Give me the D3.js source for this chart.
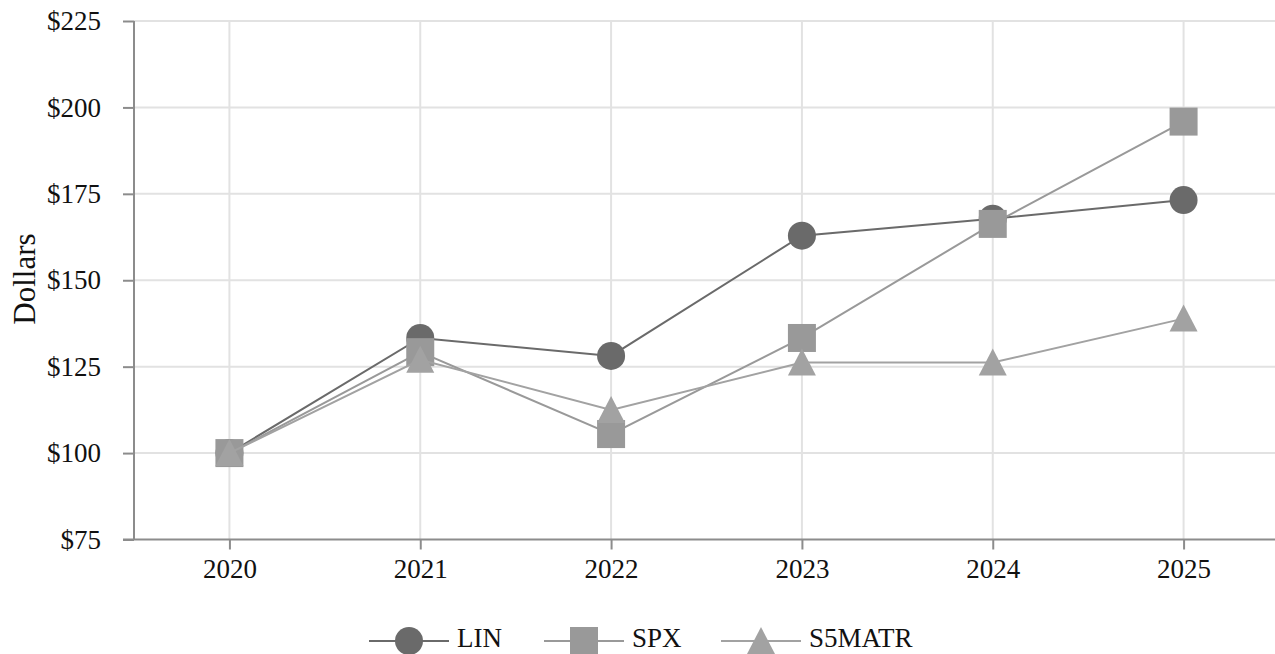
<!DOCTYPE html>
<html>
<head>
<style>
	body { margin: 0; background: #fff; }
	text { font-family: "Liberation Serif", "Times New Roman", serif; }
</style>
</head>
<body>
<svg width="1275" height="654"></svg>
<script src="https://d3js.org/d3.v7.min.js"></script>
<script>
	const years = ["2020", "2021", "2022", "2023", "2024", "2025"];
	const lin = [100, 133.3, 128.1, 162.9, 167.8, 173.2];
	const spx = [100, 129.2, 105.5, 133.3, 166.3, 195.9];
	const s5matr = [100, 127, 112.5, 126.2, 126.2, 138.9];
	const yTicks = [75, 100, 125, 150, 175, 200, 225];

	const series = [
		{ name: "LIN", values: lin, color: "#6a6a6a", shape: "circle" },
		{ name: "SPX", values: spx, color: "#999999", shape: "square" },
		{ name: "S5MATR", values: s5matr, color: "#a2a2a2", shape: "triangle" },
	];

	const svg = d3.select("svg");
	const margin = { top: 21, left: 134, bottom: 539.5, right: 1279 };
	const fontSize = "27px";

	const x = d3.scalePoint().domain(years).range([margin.left, margin.right]).padding(0.5);
	const y = d3.scaleLinear().domain([75, 225]).range([margin.bottom, margin.top]);

	// grid
	const grid = svg.append("g");
	grid.selectAll("line.v")
		.data(years)
		.join("line")
		.attr("x1", (d) => x(d)).attr("x2", (d) => x(d))
		.attr("y1", margin.top).attr("y2", margin.bottom)
		.attr("stroke", "#e2e2e2").attr("stroke-width", 2);
	grid.selectAll("line.h")
		.data(yTicks.slice(1))
		.join("line")
		.attr("x1", margin.left).attr("x2", 1275)
		.attr("y1", (d) => y(d)).attr("y2", (d) => y(d))
		.attr("stroke", "#e2e2e2").attr("stroke-width", 2);

	// axes
	const xAxis = svg.append("g")
		.attr("transform", "translate(0," + margin.bottom + ")")
		.call(d3.axisBottom(x).tickSize(10).tickSizeOuter(0).tickPadding(9));
	const yAxis = svg.append("g")
		.attr("transform", "translate(" + margin.left + ",0)")
		.call(d3.axisLeft(y).tickValues(yTicks).tickFormat((d) => "$" + d).tickSize(11).tickSizeOuter(0).tickPadding(22));
	[xAxis, yAxis].forEach((a) => {
		a.select(".domain").attr("stroke", "#8c8c8c").attr("stroke-width", 2);
		a.selectAll(".tick line").attr("stroke", "#8c8c8c").attr("stroke-width", 2);
		a.selectAll("text").attr("fill", "#111").style("font-size", fontSize).style("font-family", "Liberation Serif");
	});
	yAxis.select(".domain").attr("d", "M0," + margin.top + "V" + margin.bottom);
	xAxis.select(".domain").attr("d", "M" + (margin.left - 11) + ",0H1275");

	svg.append("text")
		.attr("transform", "translate(35,279) rotate(-90)")
		.attr("text-anchor", "middle")
		.style("font-size", "31px")
		.attr("fill", "#111")
		.text("Dollars");

	const trianglePath = "M0,-14L14,13L-14,13Z";
	function marker(sel, shape, color) {
		if (shape === "circle") {
			sel.append("circle").attr("r", 14).attr("fill", color);
		} else if (shape === "square") {
			sel.append("rect").attr("x", -14).attr("y", -14).attr("width", 28).attr("height", 28).attr("fill", color);
		} else {
			sel.append("path").attr("d", trianglePath).attr("fill", color);
		}
	}

	const line = d3.line().x((d, i) => x(years[i])).y((d) => y(d));

	series.forEach((s) => {
		const g = svg.append("g");
		g.append("path")
			.attr("d", line(s.values))
			.attr("fill", "none")
			.attr("stroke", s.color)
			.attr("stroke-width", 2);
		g.selectAll("g.m")
			.data(s.values)
			.join("g")
			.attr("transform", (d, i) => "translate(" + x(years[i]) + "," + y(d) + ")")
			.each(function () { marker(d3.select(this), s.shape, s.color); });
	});

	// legend
	const legendX = [409, 584, 761];
	const legendY = 641;
	series.forEach((s, i) => {
		const g = svg.append("g").attr("transform", "translate(" + legendX[i] + "," + legendY + ")");
		g.append("line").attr("x1", -40).attr("x2", 40).attr("stroke", s.color).attr("stroke-width", 2);
		marker(g, s.shape, s.color);
		g.append("text")
			.attr("x", 48).attr("y", 6)
			.style("font-size", fontSize)
			.attr("fill", "#111")
			.text(s.name);
	});
</script>
</body>
</html>
